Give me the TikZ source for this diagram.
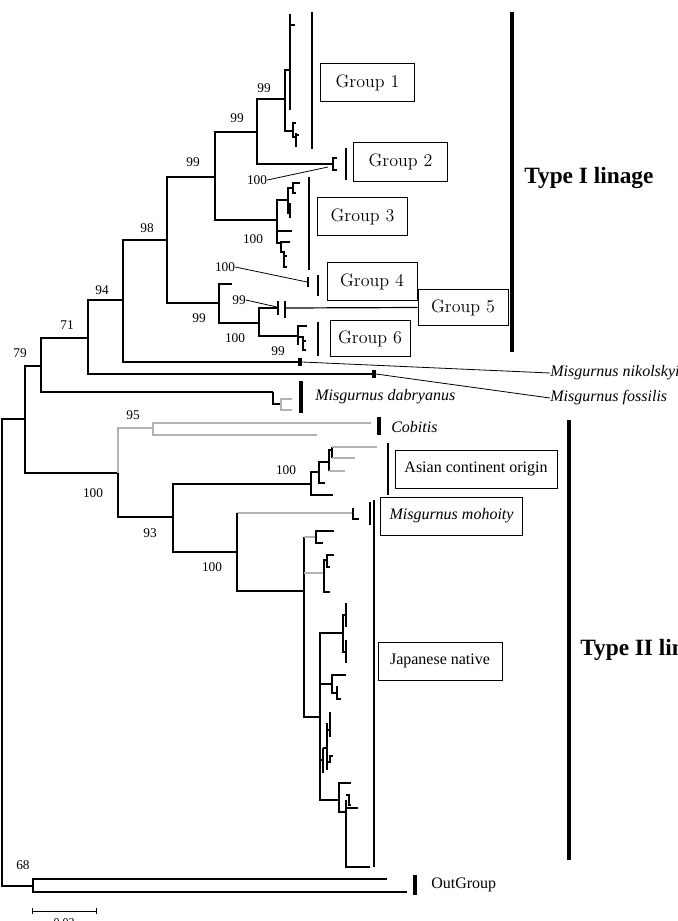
\documentclass[tikz,border=0pt]{standalone}
\usepackage{fontspec}
\newfontfamily\tnr{Liberation Serif}
\usetikzlibrary{positioning}

\tikzset{
  branch/.style={line width=0.9pt},
  greybranch/.style={line width=0.8pt, gray!60},
  cladebar/.style={line width=1.6pt},
  typebar/.style={line width=2.6pt},
  pointer/.style={line width=0.6pt},
  boot/.style={font=\tnr\fontsize{10}{12}\selectfont, inner sep=0pt},
  grpbox/.style={draw, line width=0.6pt, font=\fontsize{13.5}{15}\selectfont, minimum height=29pt},
  tnrbox/.style={draw, line width=0.6pt, font=\tnr\fontsize{12}{14}\selectfont, minimum height=28.5pt},
  species/.style={font=\tnr\itshape\fontsize{12}{14}\selectfont, anchor=west, inner sep=0pt},
  lineage/.style={font=\tnr\bfseries\fontsize{17.5}{20}\selectfont, anchor=west, inner sep=0pt}
}

\begin{document}
\begin{tikzpicture}[x=0.75pt, y=-0.75pt]
  \useasboundingbox (0,0) rectangle (678,921);

  \node[grpbox, minimum width=71pt] (g1) at (367.5,82.5) {Group 1};
  \node[grpbox, minimum width=70pt] (g2) at (400.5,162) {Group 2};
  \node[grpbox, minimum width=68pt] (g3) at (362.5,216.5) {Group 3};
  \node[grpbox, minimum width=67.5pt] (g4) at (372,281.5) {Group 4};
  \node[grpbox, minimum width=67.5pt, minimum height=27.5pt] (g5) at (463,307.5) {Group 5};
  \node[grpbox, minimum width=60pt, minimum height=27.5pt] (g6) at (370,338.5) {Group 6};
  \node[tnrbox, minimum width=121.5pt] (asian) at (476,469) {Asian continent origin};
  \node[tnrbox, minimum width=107pt] (mohoity) at (451.5,516) {\itshape Misgurnus mohoity};
  \node[tnrbox, minimum width=93pt] (japan) at (440,661) {Japanese native};

  \node[lineage] (type1) at (524,178) {Type I linage};
  \node[lineage] (type2) at (580,650) {Type II linage};
  \node[species] (nik) at (550,373) {Misgurnus nikolskyi};
  \node[species] (fos) at (550,398) {Misgurnus fossilis};
  \node[species] (dab) at (315,397) {Misgurnus dabryanus};
  \node[species] (cob) at (391,427) {Cobitis};
  \node[font=\tnr\fontsize{12}{14}\selectfont, anchor=west, inner sep=0pt] (out) at (431,885) {OutGroup};
  \node[font=\tnr\fontsize{9}{10}\selectfont] (scale) at (64,923) {0.02};

  \foreach \x/\y/\t [count=\i] in {264/88/99, 237/118/99, 193/162/99, 257/180/100, 147/228/98,
      253/239/100, 225/267/100, 102/290/94, 239/300/99, 199/318/99, 67/325/71, 235/338/100,
      278/351/99, 20/353/79, 133/415/95, 286/470/100, 93/493/100, 150/533/93, 212/567/100, 23/865/68}
    \node[boot] (bs\i) at (\x,\y) {\t};

  % backbone
  \draw[branch] (25,419) -- (2,419) -- (2,886) -- (33,886);
  \draw[branch] (387,879) -- (33,879) -- (33,892) -- (407,892);
  \draw[branch] (41,366) -- (25,366) -- (25,473) -- (118,473);
  \draw[branch] (88,338) -- (41,338) -- (41,392) -- (273,392);
  \draw[branch] (123,300) -- (88,300) -- (88,374) -- (373,374);
  \draw[branch] (167,240) -- (123,240) -- (123,362) -- (299,362);
  \draw[branch] (215,177) -- (167,177) -- (167,303) -- (219,303);
  \draw[branch] (257,132) -- (215,132) -- (215,220) -- (277,220);
  \draw[branch] (285,99) -- (257,99) -- (257,164) -- (333,164);

  % type I clades
  \draw[branch] (290,70) -- (285,70) -- (285,131) -- (293,131);
  \draw[branch] (290,14) -- (290,110) (290,25) -- (295,25);
  \draw[branch] (296,123) -- (293,123) -- (293,137) -- (296,137) (296,133) -- (296,147) (296,135) -- (299,135);
  \draw[branch] (337,158) -- (333,158) -- (333,170) -- (337,170);
  \draw[branch] (288,200) -- (277,200) -- (277,243) -- (281,243) (277,231) -- (292,231);
  \draw[branch] (293,188) -- (288,188) -- (288,213) -- (290,213) (290,203) -- (290,218);
  \draw[branch] (300,183) -- (293,183) -- (293,193) -- (296,193);
  \draw[branch] (290,242) -- (281,242) -- (281,252) -- (284,252) -- (284,267) -- (287,267) (284,256) -- (287,256);
  \draw[branch] (232,284) -- (219,284) -- (219,323) -- (259,323);
  \draw[branch] (278,308) -- (259,308) -- (259,336) -- (298,336);
  \draw[branch] (307,326) -- (298,326) -- (298,345) (298,337) -- (303,337) -- (303,350) -- (306,350) (303,341) -- (306,341);
  \draw[branch] (273,392) -- (273,404) -- (281,404);
  \draw[greybranch] (292,399) -- (281,399) -- (281,410) -- (292,410);

  % type II clades
  \draw[greybranch] (118,473) -- (118,428) -- (153,428);
  \draw[greybranch] (371,423) -- (153,423) -- (153,435) -- (317,435);
  \draw[branch] (118,473) -- (118,517) -- (173,517);
  \draw[branch] (311,484) -- (173,484) -- (173,552) -- (237,552);
  \draw[branch] (319,472) -- (311,472) -- (311,495) -- (333,495);
  \draw[branch] (329,462) -- (319,462) -- (319,483) -- (325,483);
  \draw[branch] (332,450) -- (329,450) -- (329,471) (332,447) -- (332,458);
  \draw[greybranch] (329,471) -- (345,471) (332,447) -- (377,447) (332,458) -- (355,458);
  \draw[greybranch] (237,513) -- (353,513);
  \draw[branch] (353,508) -- (353,519) -- (359,519);
  \draw[branch] (237,513) -- (237,591) -- (304,591);
  \draw[branch] (304,537) -- (304,717) -- (320,717);
  \draw[greybranch] (304,537) -- (316,537) (304,573) -- (324,573);
  \draw[branch] (334,531) -- (316,531) -- (316,543) -- (323,543);
  \draw[branch] (327,560) -- (324,560) -- (324,592) -- (330,592);
  \draw[branch] (334,555) -- (327,555) -- (327,567) -- (330,567);
  \draw[branch] (343,633) -- (320,633) -- (320,800) -- (339,800);
  \draw[branch] (346,615) -- (343,615) -- (343,652) -- (346,652) (346,603) -- (346,627) (346,640) -- (346,663);
  \draw[branch] (332,684) -- (320,684);
  \draw[branch] (346,675) -- (332,675) -- (332,693) -- (337,693) (337,686) -- (337,699) -- (341,699);
  \draw[branch] (320,760) -- (323,760) (323,748) -- (323,773) (323,748) -- (327,748) (327,723) -- (327,770)
    (327,730) -- (330,730) (330,712) -- (330,737) (327,762) -- (330,762) -- (330,756) -- (333,756);
  \draw[branch] (351,783) -- (339,783) -- (339,812) -- (346,812);
  \draw[branch] (346,800) -- (346,867) -- (370,867) (346,808) -- (358,808);
  \draw[branch] (346,795) -- (349,795) -- (349,805) -- (351,805);

  % bars and ticks
  \draw[cladebar] (312,12) -- (312,149);
  \draw[cladebar] (346,148) -- (346,180);
  \draw[cladebar] (309,177) -- (309,270);
  \draw[cladebar] (318,275) -- (318,296);
  \draw[cladebar] (285,301) -- (285,318);
  \draw[cladebar] (318,322) -- (318,356);
  \draw[cladebar] (370,502) -- (370,525);
  \draw[branch] (388,443) -- (388,495);
  \draw[branch] (374,500) -- (374,867);
  \draw[branch] (308,277) -- (308,287);
  \draw[branch] (278,301) -- (278,315);
  \draw[typebar] (300,358) -- (300,366);
  \draw[typebar] (374,370) -- (374,378);
  \draw[typebar] (301,381) -- (301,413);
  \draw[typebar] (379,417) -- (379,435);
  \draw[typebar] (415,875) -- (415,895);
  \draw[typebar] (512,12) -- (512,352);
  \draw[typebar] (569,420) -- (569,860);

  % pointers
  \draw[pointer] (bs4.east) -- (328,167);
  \draw[pointer] (bs7.east) -- (307,282);
  \draw[pointer] (bs9.east) -- (277,307);
  \draw[branch] (286,308) -- (g5.west);
  \draw[pointer] (302,362) -- (nik.west);
  \draw[pointer] (376,374) -- (fos.west);

  \draw[pointer] (32,911) -- (96,911) (32,908) -- (32,914) (96,908) -- (96,914);
\end{tikzpicture}
\end{document}
